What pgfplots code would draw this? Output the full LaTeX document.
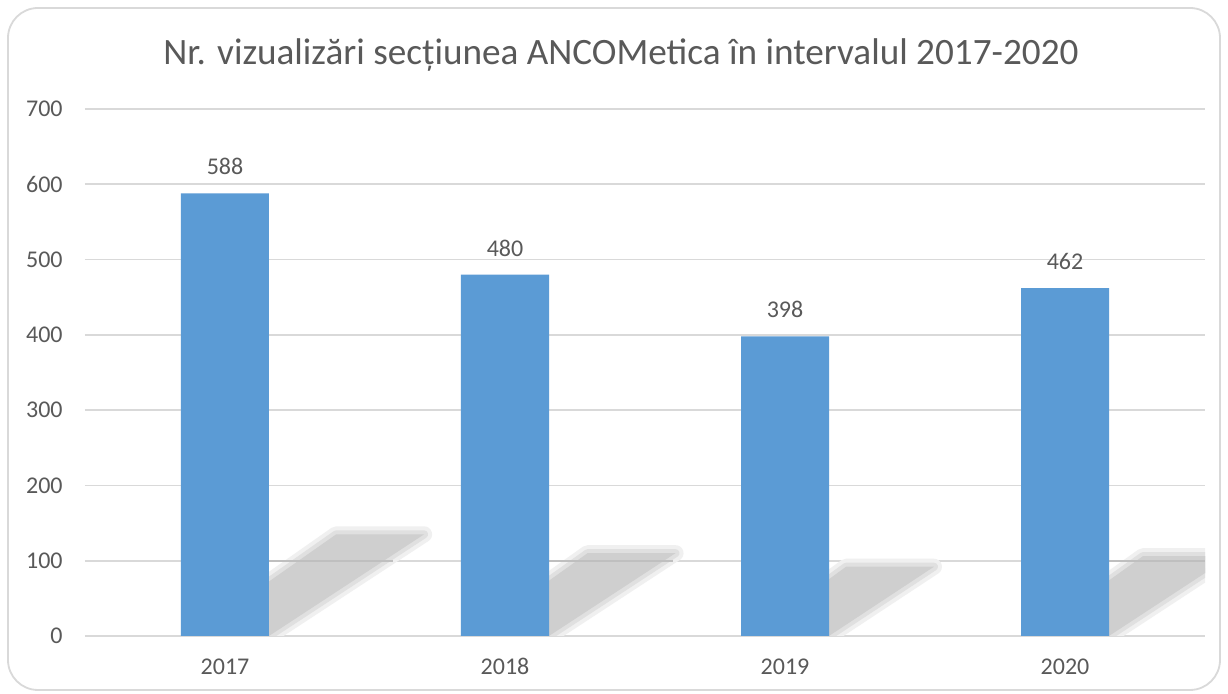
\documentclass[border=0pt]{standalone}
\usepackage{fontspec}
\setmainfont{Carlito}
\usepackage{pgfplots}
\pgfplotsset{compat=1.18}
\definecolor{barblue}{HTML}{5B9BD5}
\definecolor{txt}{HTML}{595959}
\definecolor{gridc}{HTML}{D9D9D9}
\definecolor{sh1}{HTML}{F0F0F0}
\definecolor{sh2}{HTML}{E0E0E0}
\definecolor{sh3}{HTML}{CFCFCF}
\begin{document}
\begin{tikzpicture}
\useasboundingbox (-42.5pt,-29pt) rectangle (571.5pt,318pt);
\draw[color=gridc, line width=0.9pt, rounded corners=15pt, fill=white] (-38.5pt,-27pt) rectangle (567.5pt,314pt);
\node[anchor=base west, inner sep=0pt, text=txt, font=\fontsize{18.6}{21}\selectfont] at (39pt,285.5pt) {Nr. vizualizări secțiunea ANCOMetica în intervalul 2017-2020};
\begin{axis}[
  at={(0pt,0pt)}, anchor=south west,
  scale only axis, width=560pt, height=263.5pt,
  xmin=-0.5, xmax=3.5, ymin=0, ymax=700,
  xtick={0,1,2,3}, xticklabels={2017,2018,2019,2020},
  ytick={0,100,...,700},
  axis line style={draw=none},
  major tick length=0pt,
  tick style={draw=none},
  ymajorgrids, grid style={color=gridc, line width=0.8pt},
  /pgf/number format/assume math mode=true,
  tick label style={font=\fontsize{12}{14}\selectfont, text=txt},
  yticklabel style={anchor=east, inner sep=0pt, xshift=-11pt},
  xticklabel style={anchor=base, inner sep=0pt, yshift=-19.5pt},
]
% decorative shadows (drawn first so the bars cover them)
\addplot[draw=sh1, fill=sh1, line width=8pt, line join=round, forget plot] coordinates {(-0.12,0) (0.157,0) (0.711,135) (0.397,135)} -- cycle;
\addplot[draw=sh1, fill=sh1, line width=8pt, line join=round, forget plot] coordinates {(0.88,0) (1.157,0) (1.609,110) (1.295,110)} -- cycle;
\addplot[draw=sh1, fill=sh1, line width=8pt, line join=round, forget plot] coordinates {(1.88,0) (2.157,0) (2.532,92) (2.218,92)} -- cycle;
\addplot[draw=sh1, fill=sh1, line width=8pt, line join=round, forget plot] coordinates {(2.88,0) (3.157,0) (3.592,106) (3.278,106)} -- cycle;
\addplot[draw=sh2, fill=sh2, line width=4pt, line join=round, forget plot] coordinates {(-0.12,0) (0.157,0) (0.711,135) (0.397,135)} -- cycle;
\addplot[draw=sh2, fill=sh2, line width=4pt, line join=round, forget plot] coordinates {(0.88,0) (1.157,0) (1.609,110) (1.295,110)} -- cycle;
\addplot[draw=sh2, fill=sh2, line width=4pt, line join=round, forget plot] coordinates {(1.88,0) (2.157,0) (2.532,92) (2.218,92)} -- cycle;
\addplot[draw=sh2, fill=sh2, line width=4pt, line join=round, forget plot] coordinates {(2.88,0) (3.157,0) (3.592,106) (3.278,106)} -- cycle;
\addplot[draw=none, fill=sh3, forget plot] coordinates {(-0.12,0) (0.157,0) (0.711,135) (0.397,135)} -- cycle;
\addplot[draw=none, fill=sh3, forget plot] coordinates {(0.88,0) (1.157,0) (1.609,110) (1.295,110)} -- cycle;
\addplot[draw=none, fill=sh3, forget plot] coordinates {(1.88,0) (2.157,0) (2.532,92) (2.218,92)} -- cycle;
\addplot[draw=none, fill=sh3, forget plot] coordinates {(2.88,0) (3.157,0) (3.592,106) (3.278,106)} -- cycle;
\addplot[color=black!25, line width=0.8pt, forget plot] coordinates {(0.15,100) (0.6,100)};
\addplot[color=black!25, line width=0.8pt, forget plot] coordinates {(1.15,100) (1.6,100)};
\addplot[color=black!25, line width=0.8pt, forget plot] coordinates {(3.15,100) (3.5,100)};
\addplot[ybar, bar width=44pt, fill=barblue, draw=none,
  nodes near coords,
  nodes near coords style={font=\fontsize{12}{14}\selectfont, text=txt, anchor=south, inner sep=0pt, yshift=9pt}]
  coordinates {(0,588) (1,480) (2,398) (3,462)};
\end{axis}
\end{tikzpicture}
\end{document}
